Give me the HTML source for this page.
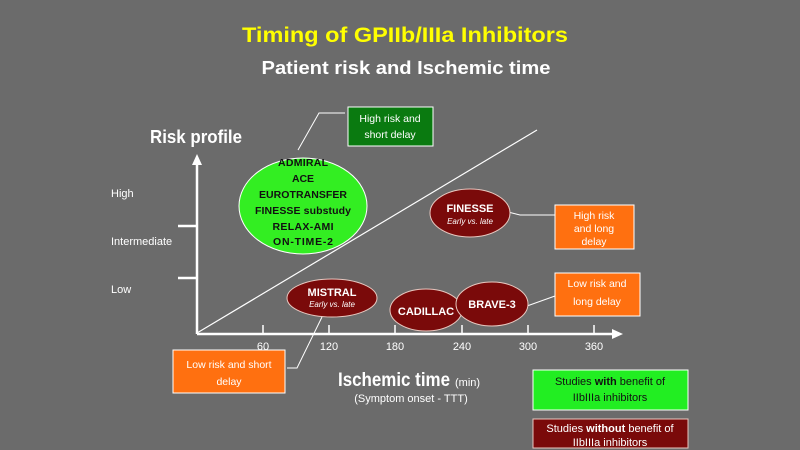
<!DOCTYPE html>
<html><head><meta charset="utf-8"><style>
html,body{margin:0;padding:0;background:#6b6b6b;}
svg{display:block;font-family:"Liberation Sans",sans-serif;}
</style></head><body>
<svg width="800" height="450" viewBox="0 0 800 450" xmlns="http://www.w3.org/2000/svg">
<rect width="800" height="450" fill="#6b6b6b"/>
<text x="405" y="42" fill="#ffff00" font-size="21" font-weight="bold" text-anchor="middle" textLength="326" lengthAdjust="spacingAndGlyphs">Timing of GPIIb/IIIa Inhibitors</text>
<text x="406" y="74" fill="#fff" font-size="18" font-weight="bold" text-anchor="middle" textLength="289" lengthAdjust="spacingAndGlyphs">Patient risk and Ischemic time</text>
<text x="150" y="143" fill="#fff" font-size="18" font-weight="bold" textLength="92" lengthAdjust="spacingAndGlyphs">Risk profile</text>
<g fill="#fff" font-size="11">
<text x="111" y="197">High</text>
<text x="111" y="245">Intermediate</text>
<text x="111" y="293">Low</text>
</g>
<g stroke="#fff" stroke-width="2.5" fill="none">
<line x1="197" y1="334" x2="197" y2="162"/>
<line x1="197" y1="334" x2="614" y2="334"/>
<line x1="178" y1="226" x2="197" y2="226"/>
<line x1="178" y1="278" x2="197" y2="278"/>
</g>
<polygon points="197,154 192,165 202,165" fill="#fff"/>
<polygon points="623,334 612,329 612,339" fill="#fff"/>
<g stroke="#fff" stroke-width="1.5">
<line x1="263" y1="325" x2="263" y2="334"/><line x1="329" y1="325" x2="329" y2="334"/>
<line x1="395" y1="325" x2="395" y2="334"/><line x1="462" y1="325" x2="462" y2="334"/>
<line x1="528" y1="325" x2="528" y2="334"/><line x1="594" y1="325" x2="594" y2="334"/>
</g>
<g fill="#fff" font-size="11" text-anchor="middle">
<text x="263" y="350">60</text><text x="329" y="350">120</text><text x="395" y="350">180</text>
<text x="462" y="350">240</text><text x="528" y="350">300</text><text x="594" y="350">360</text>
</g>
<line x1="197" y1="333" x2="537" y2="130" stroke="#fff" stroke-width="1.2"/>
<g stroke="#fff" stroke-width="1" fill="none">
<polyline points="298,150 319,113 345,113"/>
<polyline points="508,212 520,215 555,215"/>
<polyline points="322,317 297,368 287,368"/>
<polyline points="527,306 555,296"/>
</g>
<ellipse cx="303" cy="206" rx="64" ry="48" fill="#33ee22" stroke="#fff" stroke-width="1"/>
<g fill="#111" font-size="10.5" font-weight="bold" text-anchor="middle" lengthAdjust="spacingAndGlyphs">
<text x="303" y="166" textLength="50">ADMIRAL</text><text x="303" y="182" textLength="22">ACE</text>
<text x="303" y="198" textLength="88">EUROTRANSFER</text><text x="303" y="214" textLength="96">FINESSE substudy</text>
<text x="303" y="230" textLength="61">RELAX-AMI</text><text x="303" y="245" textLength="60">ON-TIME-2</text>
</g>
<rect x="348" y="107" width="85" height="39" fill="#0a7a10" stroke="#fff" stroke-width="1"/>
<text x="390" y="122" fill="#fff" font-size="10.5" text-anchor="middle">High risk and</text>
<text x="390" y="138" fill="#fff" font-size="10.5" text-anchor="middle">short delay</text>
<g fill="#7a0a0a" stroke="#e8c8c0" stroke-width="1">
<ellipse cx="470" cy="213" rx="40" ry="24"/>
<ellipse cx="332" cy="298" rx="45" ry="19"/>
<ellipse cx="426" cy="310" rx="36" ry="21"/>
<ellipse cx="492" cy="304" rx="36" ry="22"/>
</g>
<g fill="#fff" text-anchor="middle">
<text x="470" y="212" font-size="11" font-weight="bold">FINESSE</text>
<text x="470" y="224" font-size="8" font-style="italic">Early vs. late</text>
<text x="332" y="296" font-size="11" font-weight="bold">MISTRAL</text>
<text x="332" y="307" font-size="8" font-style="italic">Early vs. late</text>
<text x="426" y="315" font-size="11" font-weight="bold">CADILLAC</text>
<text x="492" y="308" font-size="11" font-weight="bold">BRAVE-3</text>
</g>
<g fill="#ff7010" stroke="#fff" stroke-width="1">
<rect x="555" y="205" width="79" height="44"/>
<rect x="555" y="273" width="85" height="43"/>
<rect x="173" y="350" width="112" height="43"/>
</g>
<g fill="#fff" font-size="10.5" text-anchor="middle">
<text x="594" y="219">High risk</text><text x="594" y="232">and long</text><text x="594" y="245">delay</text>
<text x="597" y="287">Low risk and</text><text x="597" y="305">long  delay</text>
<text x="229" y="368">Low risk and short</text><text x="229" y="385">delay</text>
</g>
<text x="338" y="386" fill="#fff" font-size="19" font-weight="bold" textLength="112" lengthAdjust="spacingAndGlyphs">Ischemic time</text>
<text x="455" y="386" fill="#fff" font-size="11">(min)</text>
<text x="411" y="402" fill="#fff" font-size="11" text-anchor="middle">(Symptom onset - TTT)</text>
<rect x="533" y="370" width="155" height="40" fill="#22ee22" stroke="#fff" stroke-width="1"/>
<text x="610" y="385" fill="#111" font-size="11" text-anchor="middle">Studies <tspan font-weight="bold">with</tspan> benefit of</text>
<text x="610" y="401" fill="#111" font-size="11" text-anchor="middle">IIbIIIa inhibitors</text>
<rect x="533" y="419" width="155" height="29" fill="#7a0a0a" stroke="#e8c8c0" stroke-width="1"/>
<text x="610" y="432" fill="#fff" font-size="11" text-anchor="middle">Studies <tspan font-weight="bold">without</tspan> benefit of</text>
<text x="610" y="446" fill="#fff" font-size="11" text-anchor="middle">IIbIIIa inhibitors</text>
</svg>
</body></html>
